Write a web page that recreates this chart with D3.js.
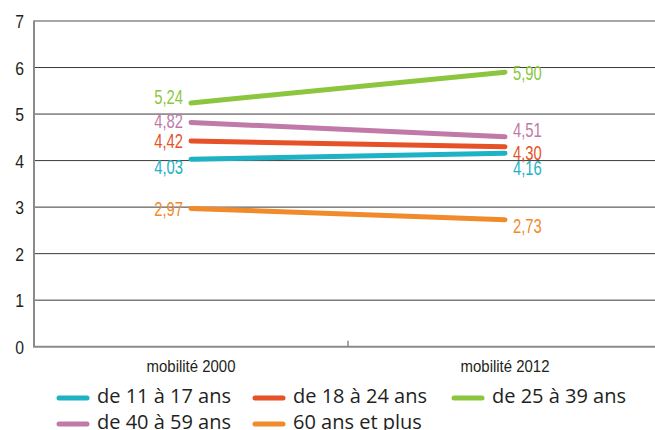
<!DOCTYPE html>
<html><head><meta charset="utf-8">
<script src="https://cdn.jsdelivr.net/npm/d3@7"></script>
<style>
body{margin:0;background:#fff;}
svg{display:block;}
.cond{font-family:"Liberation Sans",Arial,sans-serif;}
</style></head>
<body><svg id="c" width="655" height="430"></svg>
<script>
const categories = ["mobilité 2000", "mobilité 2012"];
const seriesNames = ["de 11 à 17 ans", "de 18 à 24 ans", "de 25 à 39 ans", "de 40 à 59 ans", "60 ans et plus"];
const v11_17 = [4.03, 4.16];
const v18_24 = [4.42, 4.30];
const v25_39 = [5.24, 5.90];
const v40_59 = [4.82, 4.51];
const v60 = [2.97, 2.73];
const colors = ["#1eb2c5", "#e65127", "#8cc63f", "#c079a8", "#f18a2a"];
const yTicks = [0, 1, 2, 3, 4, 5, 6, 7];
// label vertical offsets (px) for 2000 and 2012 labels
const labelDy = [[8, 14.5], [0, 6], [-6, 1], [-1, -7], [0, 6]];

const values = [v11_17, v18_24, v25_39, v40_59, v60];
const svg = d3.select("#c");
const x = d3.scaleBand().domain(categories).range([34, 662]);
const y = d3.scaleLinear().domain([0, 7]).range([346.7, 21]);
const ink = "#231f20";

function condText(g, tx, ty, sx, str, size, fill, anchor) {
  return g.append("text").attr("class", "cond")
    .attr("transform", `translate(${tx},${ty}) scale(${sx},1)`)
    .attr("text-anchor", anchor).attr("font-size", size).attr("fill", fill).text(str);
}

// gridlines
svg.append("g").selectAll("line").data(yTicks.filter(d => d > 0 && d < 7)).join("line")
  .attr("x1", 34).attr("x2", 655).attr("y1", d => y(d)).attr("y2", d => y(d))
  .attr("stroke", "#3a3a3a").attr("stroke-width", 1);
svg.append("line").attr("x1", 34).attr("x2", 655).attr("y1", y(7)).attr("y2", y(7))
  .attr("stroke", "#8a8a8a").attr("stroke-width", 1.5);
svg.append("line").attr("x1", 34).attr("x2", 34).attr("y1", y(7) - 0.5).attr("y2", y(0))
  .attr("stroke", "#8a8a8a").attr("stroke-width", 2);
svg.append("line").attr("x1", 33).attr("x2", 655).attr("y1", y(0)).attr("y2", y(0))
  .attr("stroke", "#8a8a8a").attr("stroke-width", 2);
svg.append("line").attr("x1", x(categories[1])).attr("x2", x(categories[1]))
  .attr("y1", y(0)).attr("y2", y(0) - 6).attr("stroke", "#8a8a8a").attr("stroke-width", 1.5);

// y tick labels
const gy = svg.append("g");
yTicks.forEach(d => condText(gy, 24, y(d) + 7, 0.83, d, 19, ink, "end"));

// x labels
const gx = svg.append("g");
categories.forEach(c => condText(gx, x(c) + x.bandwidth() / 2, 371.5, 0.88, c, 17, ink, "middle"));

const cx = d => x(d) + x.bandwidth() / 2;
const line = d3.line().x((d, i) => cx(categories[i])).y(d => y(d));
const fmt = v => d3.format(".2f")(v).replace(".", ",");
values.forEach((vals, s) => {
  svg.append("path").attr("d", line(vals)).attr("fill", "none")
    .attr("stroke", colors[s]).attr("stroke-width", 5).attr("stroke-linecap", "round");
  condText(svg, cx(categories[0]) - 8, y(vals[0]) + labelDy[s][0] + 7, 0.74, fmt(vals[0]), 20, colors[s], "end");
  condText(svg, cx(categories[1]) + 8, y(vals[1]) + labelDy[s][1] + 7, 0.74, fmt(vals[1]), 20, colors[s], "start");
});

// legend
const legPos = [[57, 398], [253, 398], [452, 398], [57, 424], [253, 424]];
seriesNames.forEach((n, s) => {
  const [lx, ly] = legPos[s];
  svg.append("line").attr("x1", lx + 2).attr("x2", lx + 30).attr("y1", ly).attr("y2", ly)
    .attr("stroke", colors[s]).attr("stroke-width", 5).attr("stroke-linecap", "round");
  svg.append("text").attr("x", lx + 40).attr("y", ly + 5)
    .attr("font-family", "'Open Sans', sans-serif").attr("font-size", 20).attr("fill", ink).text(n);
});
</script></body></html>
